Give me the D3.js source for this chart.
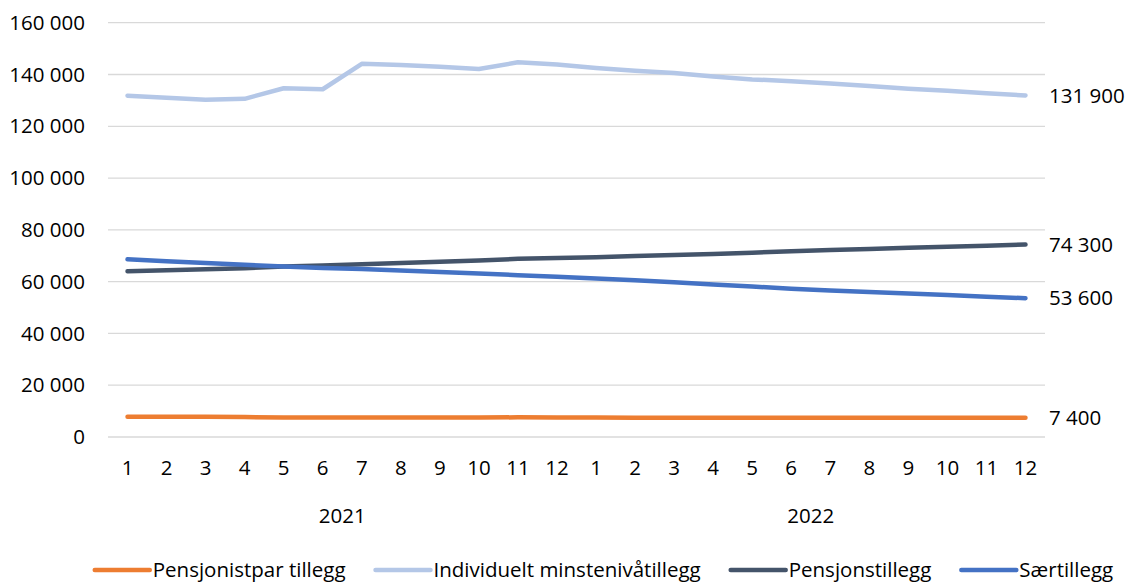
<!DOCTYPE html>
<html><head><meta charset="utf-8">
<script src="https://cdn.jsdelivr.net/npm/d3@7"></script>
<style>
body{margin:0;background:#fff;}
text{font-family:"Open Sans",sans-serif;fill:#000;}
</style></head>
<body><svg id="c" width="1131" height="586"></svg>
<script>
const months = ["1","2","3","4","5","6","7","8","9","10","11","12","1","2","3","4","5","6","7","8","9","10","11","12"];
const years = ["2021","2022"];
const seriesNames = ["Pensjonistpar tillegg","Individuelt minstenivåtillegg","Pensjonstillegg","Særtillegg"];
const pensjonistpar = [7800,7800,7800,7700,7500,7500,7500,7500,7500,7500,7600,7500,7500,7400,7400,7400,7400,7400,7400,7400,7400,7400,7400,7400];
const individuelt = [131800,131000,130200,130600,134700,134300,144100,143700,143000,142100,144700,143900,142500,141400,140600,139200,138100,137400,136500,135600,134500,133700,132800,131900];
const pensjonstillegg = [64000,64400,64800,65200,65800,66200,66700,67200,67700,68200,68800,69100,69400,69900,70300,70700,71200,71700,72200,72600,73100,73500,73900,74300];
const saertillegg = [68600,67900,67200,66500,65800,65300,64900,64300,63700,63100,62500,61900,61200,60500,59800,58900,58100,57300,56600,56000,55400,54800,54200,53600];
const yTicks = [0,20000,40000,60000,80000,100000,120000,140000,160000];
const endLabels = ["7 400","131 900","74 300","53 600"];
const colors = ["#ED7D31","#B4C7E7","#44546A","#4472C4"];

const data = [pensjonistpar, individuelt, pensjonstillegg, saertillegg];
const svg = d3.select("#c");
const L=108, R=1045, T=22.7, B=437;
const idx = d3.range(months.length);
const x = d3.scaleBand().domain(idx).range([L,R]);
const y = d3.scaleLinear().domain([0,160000]).range([B,T]);
const fmt = v => d3.format(",")(v).replace(/,/g," ");

svg.append("g").selectAll("line").data(yTicks).join("line")
  .attr("x1",L).attr("x2",R).attr("y1",d=>y(d)).attr("y2",d=>y(d))
  .attr("stroke","#D9D9D9").attr("stroke-width",1.3);

svg.append("g").selectAll("text").data(yTicks).join("text")
  .attr("x",85).attr("y",d=>y(d)).attr("dy","0.35em").attr("text-anchor","end")
  .style("font-size","20.5px").text(fmt);

svg.append("g").selectAll("text").data(idx).join("text")
  .attr("x",i=>x(i)+x.bandwidth()/2).attr("y",468).attr("dy","0.35em").attr("text-anchor","middle")
  .style("font-size","20.5px").text(i=>months[i]);

years.forEach((yr,k)=>{
  const a = x(k*12), b = x(k*12+11)+x.bandwidth();
  svg.append("text").attr("x",(a+b)/2).attr("y",516).attr("dy","0.35em").attr("text-anchor","middle")
    .style("font-size","20.5px").text(yr);
});

const line = d3.line().x((d,i)=>x(i)+x.bandwidth()/2).y(d=>y(d));
data.forEach((s,k)=>{
  svg.append("path").datum(s).attr("d",line).attr("fill","none")
    .attr("stroke",colors[k]).attr("stroke-width",4.5)
    .attr("stroke-linecap","round").attr("stroke-linejoin","round");
  svg.append("text").attr("x",1049).attr("y",y(s[s.length-1])).attr("dy","0.35em")
    .style("font-size","20.5px").text(endLabels[k]);
});

const lg = svg.append("g");
let cx = 0;
seriesNames.forEach((n,k)=>{
  const g = lg.append("g").attr("transform",`translate(${cx},0)`);
  g.append("line").attr("x1",0).attr("x2",55).attr("y1",0).attr("y2",0)
    .attr("stroke",colors[k]).attr("stroke-width",4.5).attr("stroke-linecap","round");
  const t = g.append("text").attr("x",58).attr("y",0).attr("dy","0.35em")
    .style("font-size","20.5px").text(n);
  cx += 58 + t.node().getComputedTextLength() + 30;
});
const totalW = cx - 30;
lg.attr("transform",`translate(${604 - totalW/2},570)`);
</script></body></html>
